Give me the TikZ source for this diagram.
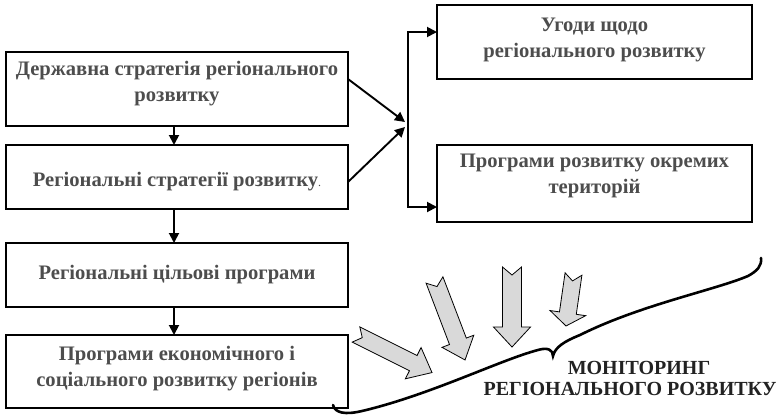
\documentclass[tikz,border=0pt]{standalone}
\usepackage{fontspec}
\setmainfont{Liberation Serif}
\usetikzlibrary{arrows.meta}
\definecolor{boxtext}{HTML}{4D4D4D}
\definecolor{monitext}{HTML}{222222}
\definecolor{blockfill}{HTML}{D9D9D9}

% notched block arrow: #1 tail centre, #2 angle, #3 length, #4 shaft half width,
% #5 head half width, #6 head length, #7 notch depth
\newcommand{\blockarrow}[7]{%
  \begin{scope}[shift={#1}, rotate=#2]
    \draw[blockarrowstyle] (0,#4) -- ({#3-#6},#4) -- ({#3-#6},#5) -- (#3,0)
      -- ({#3-#6},-#5) -- ({#3-#6},-#4) -- (0,-#4) -- (#7,0) -- cycle;
  \end{scope}}

\begin{document}
\begin{tikzpicture}[x=1pt,y=-1pt,
  box/.style={draw=black, line width=2pt, inner sep=0pt, outer sep=0pt},
  boxlabel/.style={align=center, text=boxtext, inner sep=0pt,
    font=\fontsize{20.6}{26}\selectfont\bfseries},
  monlabel/.style={align=center, text=monitext, inner sep=0pt,
    font=\fontsize{20}{21}\selectfont\bfseries},
  link/.style={line width=1.9pt, -{Triangle[length=10pt,width=10pt]}},
  blockarrowstyle/.style={draw=black, line width=0.8pt, fill=blockfill, line join=miter},
  bracestyle/.style={draw=black, line width=2.6pt, line cap=round}]

\useasboundingbox (0,0) rectangle (778,418);

% left column
\node[box, minimum width=342pt, minimum height=74pt] (b1) at (177,89) {};
\node[box, minimum width=342pt, minimum height=64pt] (b2) at (177,177) {};
\node[box, minimum width=342pt, minimum height=64pt] (b3) at (177,275) {};
\node[box, minimum width=342pt, minimum height=73pt] (b4) at (177,371.5) {};

\node[boxlabel] (t1) at (177,84) {Державна стратегія регіонального\\розвитку};
\node[boxlabel] (t2) at (177,182) {Регіональні стратегії розвитку{\mdseries\fontsize{12}{12}\selectfont.}};
\node[boxlabel] (t3) at (177,275) {Регіональні цільові програми};
\node[boxlabel] (t4) at (177,368.5) {Програми економічного і\\соціального розвитку регіонів};

% right column
\node[box, minimum width=315pt, minimum height=74pt] (bA) at (594.5,42) {};
\node[box, minimum width=315pt, minimum height=77pt] (bB) at (594.5,183.5) {};
\node[boxlabel] (tA) at (594.5,39.5) {Угоди щодо\\регіонального розвитку};
\node[boxlabel] (tB) at (594.5,175.5) {Програми розвитку окремих\\територій};

% vertical chain
\draw[link] ([xshift=-3pt]b1.south) -- ([xshift=-3pt]b2.north);
\draw[link] ([xshift=-3pt]b2.south) -- ([xshift=-3pt]b3.north);
\draw[link] ([xshift=-3pt]b3.south) -- ([xshift=-3pt]b4.north);

% fork to the right column
\coordinate (J) at (408,125);
\draw[link] ([yshift=10pt]b1.east) -- ([shift={(-3pt,3pt)}]J);
\draw[link] ([yshift=-5pt]b2.east) -- ([shift={(-3pt,-2pt)}]J);
\draw[link] (J) |- ([yshift=10pt]bA.west);
\draw[link] (J) |- ([yshift=-23.5pt]bB.west);

% grey block arrows
\blockarrow{(356,334.5)}{-26.6}{85}{8.5}{17.5}{21}{7}
\blockarrow{(434.5,280)}{-69.1}{85.6}{9}{17}{20}{7}
\blockarrow{(512,267)}{-90}{80}{9.5}{18.5}{20}{8}
\blockarrow{(573.5,274)}{-98.2}{52.5}{8.5}{18}{13}{7}

% monitoring brace
\draw[bracestyle] (333,405) .. controls (335,413) and (345,415) .. (362,411)
  .. controls (430,395) and (500,360) .. (538,350)
  .. controls (548,347) and (553,350) .. (553,356)
  .. controls (555,347) and (565,341) .. (580,335)
  .. controls (640,305) and (715,290) .. (748,276)
  .. controls (757,271) and (762,266) .. (761,258);

\node[monlabel] (mon) at (630,378) {\hspace*{18pt}МОНІТОРИНГ\\РЕГІОНАЛЬНОГО РОЗВИТКУ};

\end{tikzpicture}
\end{document}
